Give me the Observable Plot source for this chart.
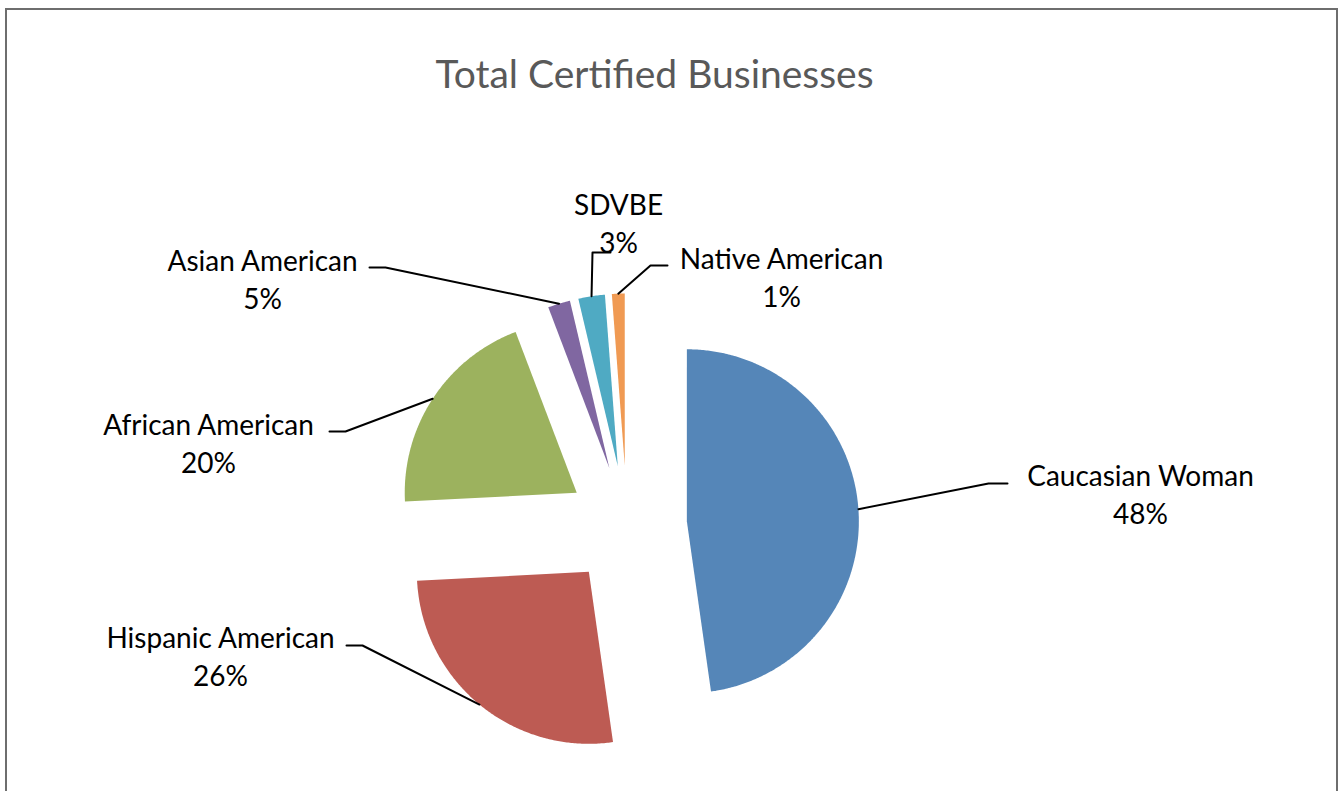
<!DOCTYPE html>
<html>
<head>
<meta charset="utf-8">
<script src="https://cdn.jsdelivr.net/npm/d3@7"></script>
<script src="https://cdn.jsdelivr.net/npm/@observablehq/plot@0.6"></script>
<style>
  html, body { margin: 0; padding: 0; background: #fff; }
  #wrap { position: relative; width: 1344px; height: 791px; overflow: hidden; }
  #frame { position: absolute; left: 5px; top: 8px; width: 1333px; height: 800px; border: 2px solid #6e6e6e; box-sizing: border-box; pointer-events: none; }
  #chart { position: absolute; left: 0; top: 0; }
</style>
</head>
<body>
<div id="wrap"><div id="chart"></div><div id="frame"></div></div>
<script>
// ---- data ----
const categories = ["Caucasian Woman", "Hispanic American", "African American", "Asian American", "SDVBE", "Native American"];
const shares = [47.9, 26.5, 20.1, 2.1, 2.5, 1.2];           // slice sizes as drawn
const percentLabels = ["48%", "26%", "20%", "5%", "3%", "1%"]; // labels as printed
const colors = ["#5586B8", "#BD5B53", "#9CB25E", "#8067A1", "#4FAAC3", "#F09A53"];
const title = "Total Certified Businesses";

// ---- layout ----
const W = 1344, H = 791;
const pie = {cx: 626.5, cy: 525, r: 172, explode: 60};
const labelLayout = [
  {x: 1140, y: 492, elbow: [988, 483], end: [1007, 483]},
  {x: 220,  y: 654, elbow: [362, 645], end: [346, 645]},
  {x: 208,  y: 441, elbow: [345, 431], end: [329, 431]},
  {x: 262,  y: 277, elbow: [385, 267], end: [369, 267]},
  {x: 618,  y: 221, elbow: [592, 252], end: [610, 252]},
  {x: 781,  y: 275, elbow: [650, 265], end: [667, 265]}
];

const total = d3.sum(shares);
const rad = a => a * Math.PI / 180;
const slicePts = [];
const leaderPts = [];
const labels = [];
let acc = 0;
categories.forEach((cat, i) => {
  const a0 = acc / total * 360;
  acc += shares[i];
  const a1 = acc / total * 360;
  const mid = (a0 + a1) / 2;
  const vx = pie.cx + pie.explode * Math.sin(rad(mid));
  const vy = pie.cy - pie.explode * Math.cos(rad(mid));
  slicePts.push({cat, x: vx, y: vy});
  const n = Math.max(4, Math.ceil((a1 - a0) / 0.5));
  for (let k = 0; k <= n; k++) {
    const a = a0 + (a1 - a0) * k / n;
    slicePts.push({cat, x: vx + pie.r * Math.sin(rad(a)), y: vy - pie.r * Math.cos(rad(a))});
  }
  slicePts.push({cat, x: vx, y: vy});
  const L = labelLayout[i];
  const sx = vx + pie.r * Math.sin(rad(mid)), sy = vy - pie.r * Math.cos(rad(mid));
  leaderPts.push({cat, x: sx, y: sy}, {cat, x: L.elbow[0], y: L.elbow[1]}, {cat, x: L.end[0], y: L.end[1]});
  labels.push({cat, x: L.x, y: L.y, text: cat + "\n" + percentLabels[i]});
});

const font = "Lato, 'Open Sans', sans-serif";
const chart = Plot.plot({
  width: W, height: H,
  margin: 0,
  x: {domain: [0, W], range: [0, W], axis: null},
  y: {domain: [0, H], range: [0, H], axis: null},
  color: {domain: categories, range: colors},
  style: {fontFamily: font, background: "transparent"},
  marks: [
    Plot.line(slicePts, {x: "x", y: "y", z: "cat", fill: "cat", stroke: "none"}),
    Plot.line(leaderPts, {x: "x", y: "y", z: "cat", stroke: "black", strokeWidth: 2}),
    Plot.text(labels, {x: "x", y: "y", text: "text", fontSize: 28, lineHeight: 1.39, fill: "black", fontFamily: font}),
    Plot.text([title], {x: () => 654, y: () => 75, text: d => d, fontSize: 39, fill: "#595959", fontFamily: font})
  ]
});
document.getElementById("chart").appendChild(chart);
</script>
</body>
</html>
